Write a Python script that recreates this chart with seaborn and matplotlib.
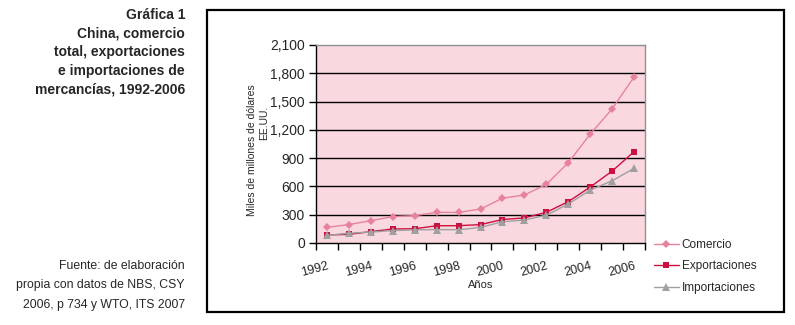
import matplotlib
matplotlib.use("Agg")
import matplotlib.pyplot as plt
import seaborn as sns
import pandas as pd
from matplotlib.patches import Rectangle
from matplotlib.ticker import FixedLocator, FuncFormatter

sns.set_style("white")
plt.rcParams['font.family'] = ['Liberation Sans', 'DejaVu Sans']

years = list(range(1992, 2007))
comercio = [165.5, 195.7, 236.6, 280.8, 289.9, 325.2, 323.9, 360.6, 474.3, 509.7, 620.8, 851.0, 1154.6, 1422.1, 1760.4]
exportaciones = [84.9, 91.7, 121.0, 148.8, 151.0, 182.8, 183.7, 194.9, 249.2, 266.1, 325.6, 438.2, 593.3, 762.0, 969.1]
importaciones = [80.6, 104.0, 115.6, 132.1, 138.8, 142.4, 140.2, 165.7, 225.1, 243.6, 295.2, 412.8, 561.2, 660.0, 791.5]
series_names = ["Comercio", "Exportaciones", "Importaciones"]
yticks = [0, 300, 600, 900, 1200, 1500, 1800, 2100]
xtick_years = [1992, 1994, 1996, 1998, 2000, 2002, 2004, 2006]

title_lines = ["Gráfica 1", "China, comercio", "total, exportaciones",
               "e importaciones de", "mercancías, 1992-2006"]
source_lines = ["Fuente: de elaboración", "propia con datos de NBS, CSY",
                "2006, p 734 y WTO, ITS 2007"]

df = pd.DataFrame({
    "Año": years * 3,
    "Valor": comercio + exportaciones + importaciones,
    "Serie": [series_names[0]] * 15 + [series_names[1]] * 15 + [series_names[2]] * 15,
})

W, H = 795, 325
fig = plt.figure(figsize=(W / 100, H / 100), dpi=100)
ax = fig.add_axes([316 / W, (H - 243) / H, 329 / W, 198 / H])
ax.set_facecolor("#F9D8E0")

palette = {"Comercio": "#E8829C", "Exportaciones": "#CC1040", "Importaciones": "#A0A0A0"}
markers = {"Comercio": "D", "Exportaciones": "s", "Importaciones": "^"}
sizes = {"Comercio": 4.5, "Exportaciones": 5, "Importaciones": 6}

for ax_y in yticks[1:-1]:
    ax.axhline(ax_y, color="black", lw=1.0, zorder=1)

for name in series_names:
    sub = df[df["Serie"] == name]
    sns.lineplot(data=sub, x="Año", y="Valor", ax=ax, color=palette[name],
                 marker=markers[name], markersize=sizes[name], markeredgewidth=0,
                 lw=1.0, label=name, zorder=3, legend=False)

ax.set_xlim(1991.5, 2006.5)
ax.set_ylim(0, 2100)
ax.set_yticks(yticks)
ax.yaxis.set_major_formatter(FuncFormatter(lambda v, p: f"{int(v):,}"))
ax.tick_params(axis="y", which="major", length=5, width=1, color="black",
               direction="out", labelsize=10, pad=3, left=True)
ax.set_xticks(xtick_years)
ax.set_xticklabels([str(y) for y in xtick_years], rotation=15, ha="right",
                   rotation_mode="anchor", fontsize=9)
ax.tick_params(axis="x", which="major", length=0, pad=12)
ax.xaxis.set_minor_locator(FixedLocator([y + 0.5 for y in range(1991, 2007)]))
ax.tick_params(axis="x", which="minor", length=5, width=1, color="black",
               direction="out", bottom=True)
ax.set_xlabel("Años", fontsize=8, labelpad=1)
ax.set_ylabel("")

for s in ["left", "bottom"]:
    ax.spines[s].set_color("black")
    ax.spines[s].set_linewidth(1.0)
for s in ["top", "right"]:
    ax.spines[s].set_color("#909090")
    ax.spines[s].set_linewidth(1.0)
    ax.spines[s].set_visible(True)

fig.text(252 / W, 1 - 150 / H, "Miles de millones de dólares", rotation=90,
         ha="center", va="center", fontsize=7.5)
fig.text(264 / W, 1 - 123 / H, "EE.UU.", rotation=90, ha="center", va="center",
         fontsize=7.5)

handles, labels = ax.get_legend_handles_labels()
fig.legend(handles, labels, loc="upper left", bbox_to_anchor=(654 / W, 1 - 239 / H),
           frameon=False, fontsize=8.5, handlelength=2.1, handletextpad=0.25,
           labelspacing=0.8, borderpad=0, borderaxespad=0)

title_y = [15, 34, 52, 71, 90]
for t, yy in zip(title_lines, title_y):
    fig.text(185 / W, 1 - yy / H, t, ha="right", va="center", fontsize=10,
             fontweight="bold")
source_y = [266, 285, 305]
for t, yy in zip(source_lines, source_y):
    fig.text(185 / W, 1 - yy / H, t, ha="right", va="center", fontsize=8.8)

fig.patches.append(Rectangle((207 / W, 1 - 312 / H), (784 - 207) / W, (312 - 10) / H,
                             transform=fig.transFigure, fill=False,
                             edgecolor="black", lw=1.6))

fig.savefig("out.png", dpi=100)
